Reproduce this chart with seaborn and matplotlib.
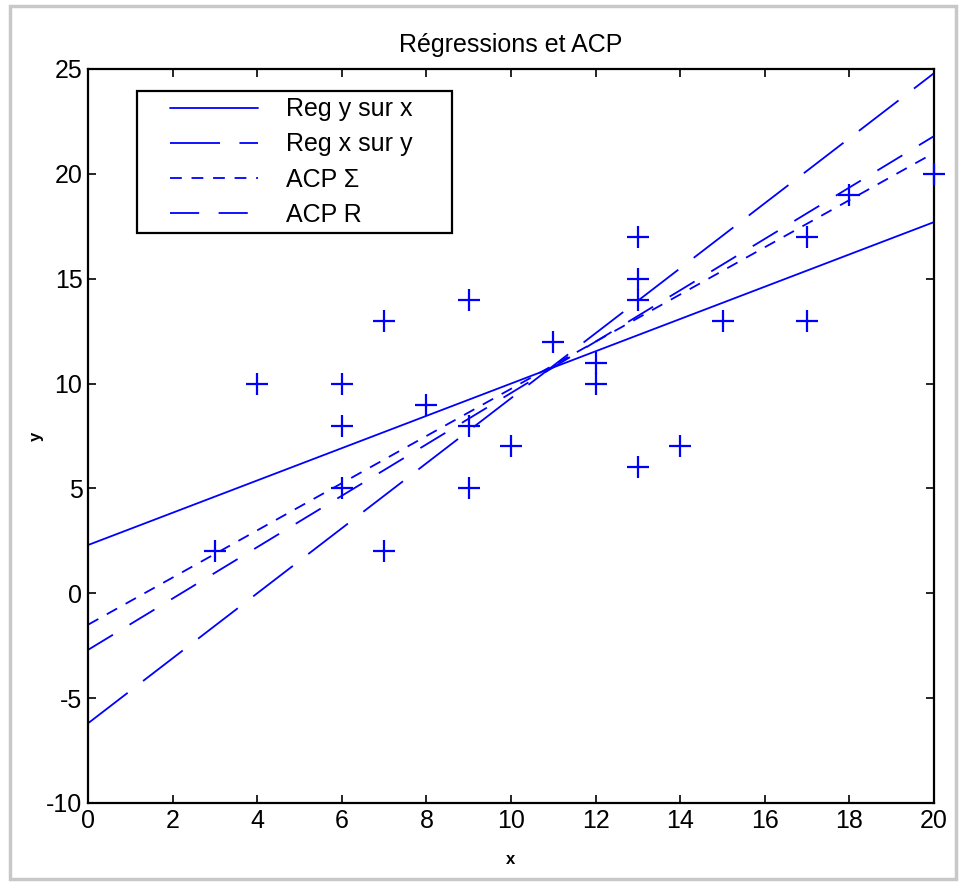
import matplotlib
matplotlib.use("Agg")
import matplotlib.pyplot as plt
import seaborn as sns
import numpy as np
import pandas as pd
from matplotlib.patches import Rectangle
from matplotlib.legend_handler import HandlerLine2D
from matplotlib.lines import Line2D

# ---- data ----
x_pts = [3, 4, 6, 6, 6, 7, 7, 8, 9, 9, 9, 10, 11, 12, 12, 13, 13, 13, 13, 14, 15, 17, 17, 18, 20]
y_pts = [2, 10, 10, 8, 5, 13, 2, 9, 14, 8, 5, 7, 12, 11, 10, 17, 15, 14, 6, 7, 13, 17, 13, 19, 20]

line_names = ["Reg y sur x", "Reg x sur y", "ACP Σ", "ACP R"]
intercepts = [2.3, -6.2, -1.5, -2.7]
slopes = [0.77, 1.55, 1.125, 1.225]
x_range = [0, 20]

xticks = [0, 2, 4, 6, 8, 10, 12, 14, 16, 18, 20]
yticks = [-10, -5, 0, 5, 10, 15, 20, 25]

# ---- style ----
sns.set_style("ticks")
plt.rcParams['font.family'] = ['Liberation Sans', 'DejaVu Sans']
plt.rcParams['lines.scale_dashes'] = False
plt.rcParams['axes.unicode_minus'] = False
plt.rcParams['text.color'] = 'black'
plt.rcParams['axes.labelcolor'] = 'black'

fig = plt.figure(figsize=(9.64, 8.84), dpi=100)
ax = fig.add_axes([88/964, 81/884, 846/964, 734/884])

blue = (0, 0, 1)
dash_styles = [(None, None), (36, 14), (8.5, 7), (21, 14)]

rows = []
for name, b, m in zip(line_names, intercepts, slopes):
    for xv in x_range:
        rows.append({"x": xv, "y": b + m * xv, "name": name})
df_lines = pd.DataFrame(rows)

for name, dsh in zip(line_names, dash_styles):
    sub = df_lines[df_lines["name"] == name]
    sns.lineplot(data=sub, x="x", y="y", ax=ax, color=blue, lw=1.3, label=name)
    ln = ax.lines[-1]
    if dsh[0] is not None:
        ln.set_dashes(dsh)

sns.scatterplot(x=x_pts, y=y_pts, ax=ax, marker='+', s=260, color=blue,
                linewidth=1.6, legend=False, zorder=3)
for c in ax.collections:
    c.set_clip_on(False)

ax.set_xlim(0, 20)
ax.set_ylim(-10, 25)
ax.set_xticks(xticks)
ax.set_yticks(yticks)
ax.tick_params(direction='in', length=6, width=1.2, top=True, right=True,
               labelsize=18, pad=4, colors='black')
for sp in ax.spines.values():
    sp.set_linewidth(1.6)
    sp.set_color('black')

ax.set_title("Régressions et ACP", fontsize=18, pad=12)
ax.set_xlabel("x", fontsize=12, fontweight='bold', labelpad=14)
ax.set_ylabel("y", fontsize=12, fontweight='bold', labelpad=2)


class ShiftedLine(HandlerLine2D):
    def __init__(self, shift, **kw):
        super().__init__(**kw)
        self.shift = shift

    def create_artists(self, legend, orig_handle, xdescent, ydescent, width,
                       height, fontsize, trans):
        return super().create_artists(legend, orig_handle, xdescent - self.shift,
                                      ydescent, width - self.shift, height,
                                      fontsize, trans)


x0 = (137 - 88) / 846
w = 315 / 846
top = (803 - 91) / 734
h = 145 / 734
handles, labels = ax.get_legend_handles_labels()
leg = ax.legend(handles, labels, loc='upper left', bbox_to_anchor=(x0, top - h, w, h),
                mode='expand', fontsize=18, frameon=True, fancybox=False,
                edgecolor='black', framealpha=1,
                handlelength=4.6, handletextpad=1.1, borderpad=0.25,
                labelspacing=0.45, borderaxespad=0,
                handler_map={Line2D: ShiftedLine(19)})
leg.get_frame().set_linewidth(1.6)
for h_ in leg.get_lines():
    h_.set_linewidth(1.3)

# figure frame (screenshot border)
fig.patches.append(Rectangle((10/964, 5/884), 946/964, 873/884, transform=fig.transFigure,
                             fill=False, edgecolor='#c8c8c8', lw=2.5, zorder=-1))

fig.savefig("out.png", dpi=100)
